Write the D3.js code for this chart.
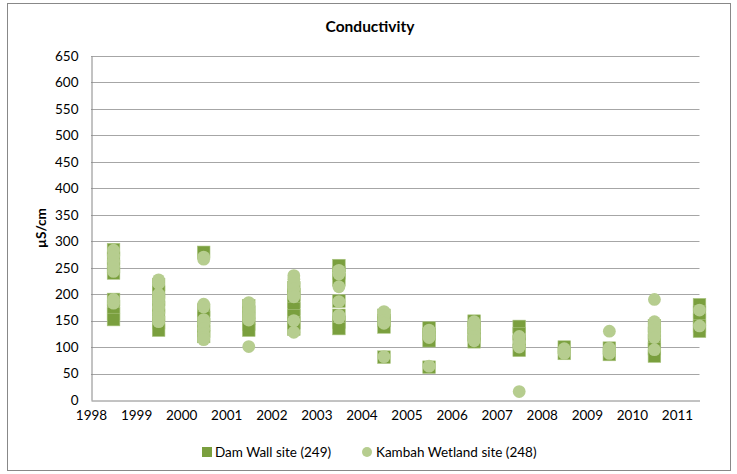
<!DOCTYPE html>
<html>
<head>
<meta charset="utf-8">
<title>Conductivity</title>
<script src="https://cdn.jsdelivr.net/npm/d3@7/dist/d3.min.js"></script>
<style>
  body { margin: 0; background: #fff; }
  text { font-family: Lato, "Open Sans", "Liberation Sans", sans-serif; fill: #000; }
</style>
</head>
<body>
<div id="chart"></div>
<script>
// sample date of each annual survey (mid-year)
var sampleYears = [1998.5, 1999.5, 2000.5, 2001.5, 2002.5, 2003.5, 2004.5,
                   2005.5, 2006.5, 2007.5, 2008.5, 2009.5, 2010.5, 2011.5];

// conductivity readings, uS/cm, one list per survey
var damWall = [
  [284, 268, 252, 240, 190, 176, 163, 152],
  [218, 204, 190, 175, 160, 146, 132],
  [279, 170, 156, 142, 130, 120],
  [178, 166, 154, 143, 132],
  [212, 199, 186, 172, 159, 146, 134],
  [254, 240, 227, 187, 160, 147, 135],
  [160, 150, 138, 81],
  [136, 124, 112, 62],
  [149, 136, 123, 110],
  [139, 125, 110, 94],
  [100, 88],
  [98, 86],
  [140, 126, 112, 97, 83],
  [180, 166, 152, 140, 130]
];
var kambah = [
  [283, 272, 262, 252, 243, 190, 183],
  [227, 220, 200, 192, 184, 175, 165, 155, 148],
  [270, 266, 181, 176, 152, 145, 135, 125, 118, 114],
  [184, 178, 170, 163, 157, 151, 101],
  [235, 228, 220, 210, 200, 195, 150, 128],
  [245, 238, 214, 186, 160, 155],
  [167, 160, 150, 145, 82],
  [132, 124, 118, 64],
  [148, 140, 130, 120, 112],
  [120, 110, 100, 16],
  [97, 92, 88],
  [130, 98, 92, 88],
  [190, 148, 140, 132, 125, 118, 95],
  [170, 140]
];
var seriesNames = ["Dam Wall site (249)", "Kambah Wetland site (248)"];
var xTicks = d3.range(1998, 2012);
var yTicks = d3.range(0, 651, 50);

var width = 737, height = 474;
var margin = {top: 56, right: 39, bottom: 74, left: 91};

var svg = d3.select("#chart").append("svg")
    .attr("width", width)
    .attr("height", height);

// chart border
svg.append("rect")
    .attr("x", 7.5).attr("y", 3.5)
    .attr("width", 723).attr("height", 467)
    .attr("fill", "#fff")
    .attr("stroke", "#888")
    .attr("stroke-width", 1);

var x = d3.scaleLinear().domain([1998, 2011.5]).range([margin.left, width - margin.right + 1.5]);
var y = d3.scaleLinear().domain([0, 650]).range([height - margin.bottom, margin.top]);

// gridlines
svg.append("g")
    .selectAll("line")
    .data(yTicks.slice(1))
    .enter().append("line")
    .attr("x1", x.range()[0]).attr("x2", x.range()[1])
    .attr("y1", function(d) { return Math.round(y(d)) + 0.5; })
    .attr("y2", function(d) { return Math.round(y(d)) + 0.5; })
    .attr("stroke", "#a6a6a6");

// axes
var yAxis = svg.append("g")
    .attr("transform", "translate(" + (margin.left + 0.5) + ",0)")
    .call(d3.axisLeft(y).tickValues(yTicks).tickSize(0).tickPadding(13));
var xAxis = svg.append("g")
    .attr("transform", "translate(0," + (Math.round(y(0)) + 0.5) + ")")
    .call(d3.axisBottom(x).tickValues(xTicks).tickFormat(d3.format("d")).tickSize(0).tickPadding(10));
[yAxis, xAxis].forEach(function(a) {
    a.select(".domain").attr("stroke", "#868686");
    a.selectAll("text").style("font-size", "13.5px");
});

// points
var damPts = [], kamPts = [];
sampleYears.forEach(function(yr, i) {
    damWall[i].forEach(function(v) { damPts.push({x: yr, v: v}); });
    kambah[i].forEach(function(v) { kamPts.push({x: yr, v: v}); });
});

var sq = 12.6;
svg.append("g").selectAll("rect")
    .data(damPts)
    .enter().append("rect")
    .attr("x", function(d) { return x(d.x) - sq / 2; })
    .attr("y", function(d) { return y(d.v) - sq / 2; })
    .attr("width", sq).attr("height", sq)
    .attr("fill", "#7a9f3e")
    .attr("stroke", "#a9c47f")
    .attr("stroke-width", 0.6);

svg.append("g").selectAll("circle")
    .data(kamPts)
    .enter().append("circle")
    .attr("cx", function(d) { return x(d.x); })
    .attr("cy", function(d) { return y(d.v); })
    .attr("r", 6.4)
    .attr("fill", "#b6cd8f");

// title
svg.append("text")
    .attr("x", 370).attr("y", 32)
    .attr("text-anchor", "middle")
    .style("font-size", "15.5px")
    .style("font-weight", "bold")
    .text("Conductivity");

// y axis title
svg.append("text")
    .attr("transform", "translate(41," + y(325) + ") rotate(-90)")
    .attr("text-anchor", "middle")
    .attr("dy", "0.35em")
    .style("font-size", "13.5px")
    .style("font-weight", "bold")
    .text("µS/cm");

// legend
var legend = svg.append("g").attr("transform", "translate(0,452)");
legend.append("rect")
    .attr("x", 202).attr("y", -5).attr("width", 10).attr("height", 10)
    .attr("fill", "#7a9f3e");
legend.append("text")
    .attr("x", 215).attr("dy", "0.35em")
    .style("font-size", "13.5px")
    .text(seriesNames[0]);
legend.append("circle")
    .attr("cx", 367).attr("cy", 0).attr("r", 5)
    .attr("fill", "#b6cd8f");
legend.append("text")
    .attr("x", 376).attr("dy", "0.35em")
    .style("font-size", "13.5px")
    .text(seriesNames[1]);
</script>
</body>
</html>
